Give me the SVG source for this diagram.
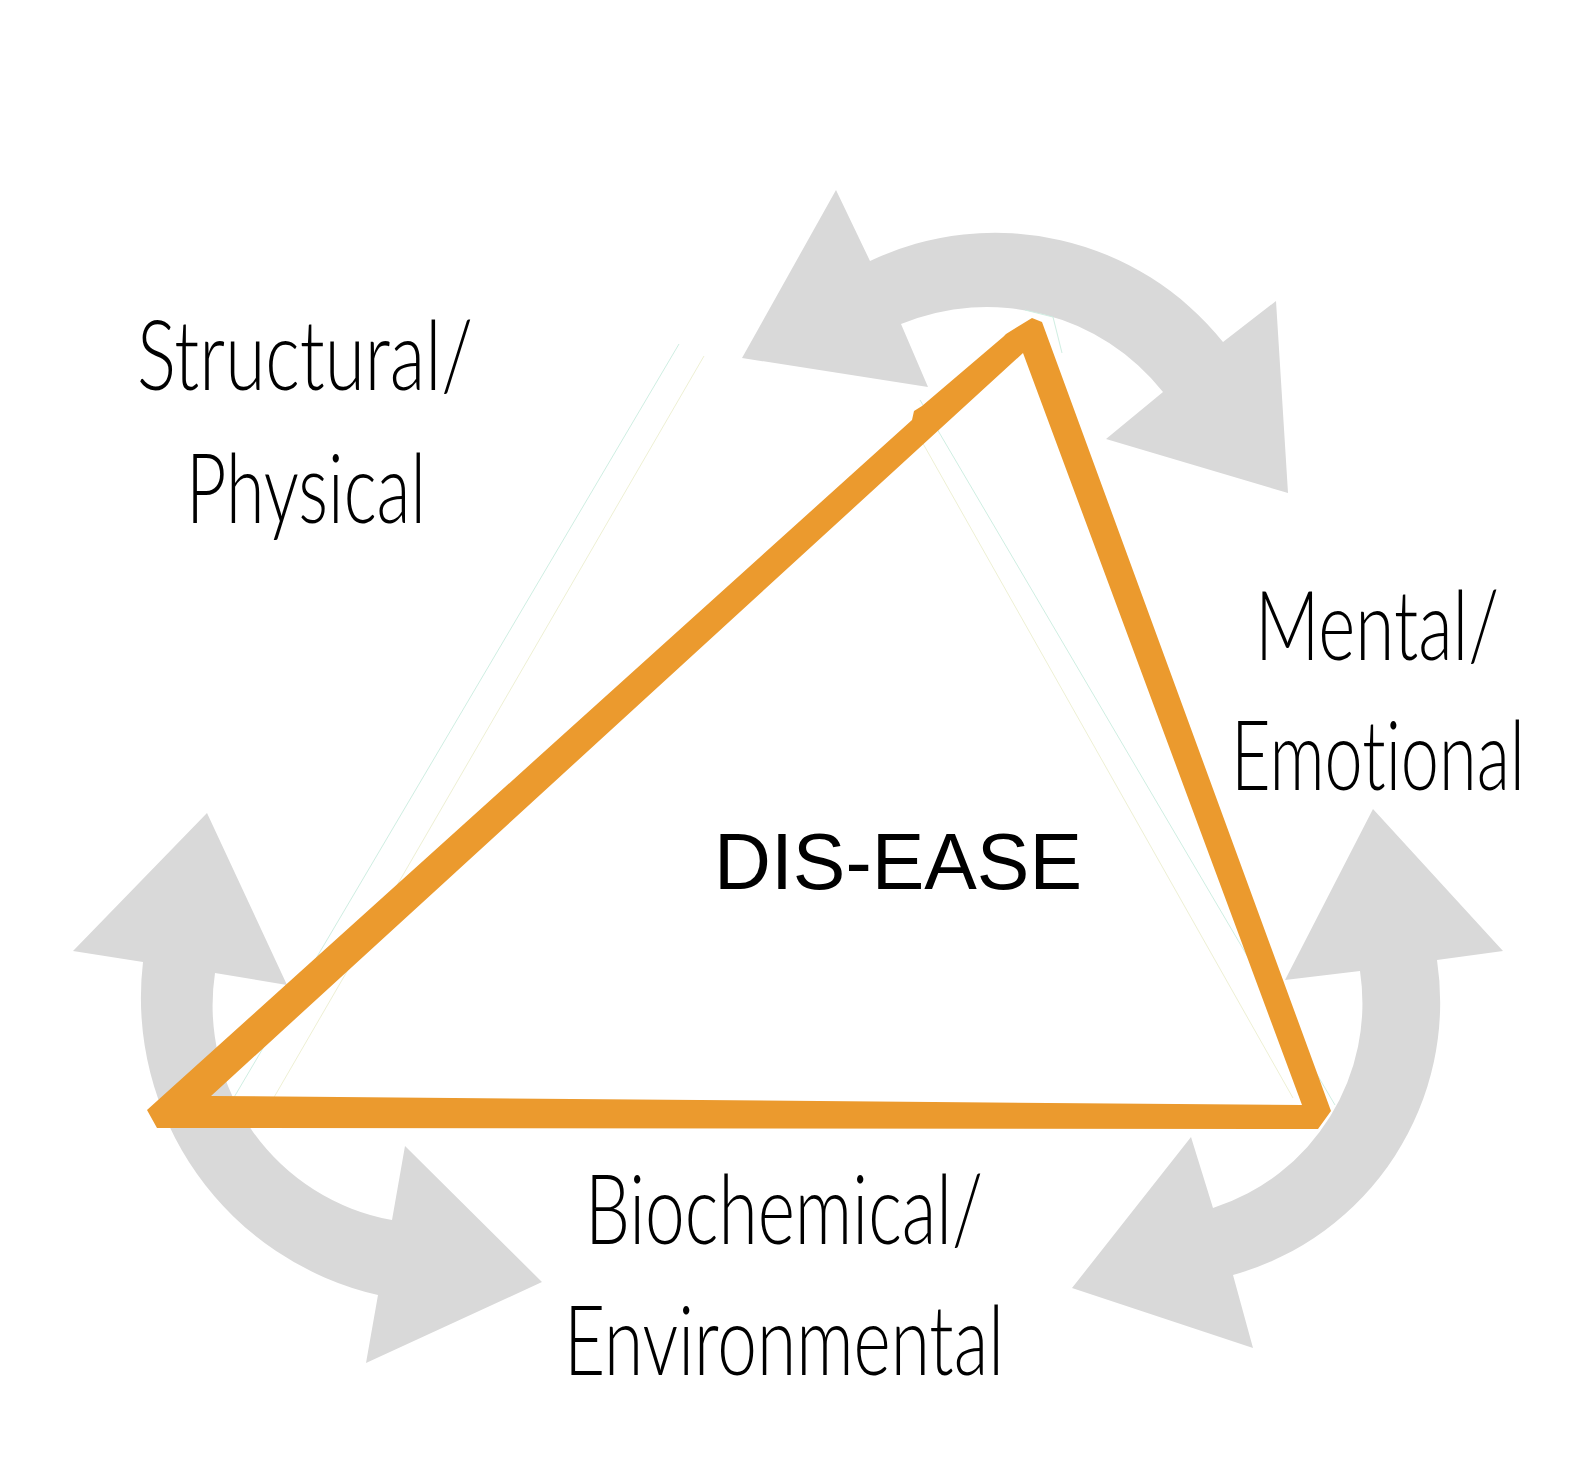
<svg xmlns="http://www.w3.org/2000/svg" width="1588" height="1473" viewBox="0 0 1588 1473">
  <style>
    .arrow { fill: #d9d9d9; stroke: none; }
    .tri { fill: #eb9a2e; fill-rule: evenodd; stroke: none; }
    .faintg { fill: none; stroke: #cfeee2; stroke-width: 1; }
    .fainty { fill: none; stroke: #eef0d4; stroke-width: 1; }
    .lbl { font-family: Lato, "Open Sans", "Liberation Sans", sans-serif; font-weight: 300; font-size: 97px; fill: #000; font-variant-ligatures: none; }
    .center { font-family: "Liberation Sans", Arial, sans-serif; font-weight: 400; font-size: 79px; fill: #000; }
  </style>
  <rect width="1588" height="1473" fill="#ffffff"/>
  <g id="connectors">
    <path id="arrow-top" class="arrow" d="M 870 261 A 292 292 0 0 1 1223 342 L 1276 301 L 1288 493 L 1106 439 L 1163 392 A 225 225 0 0 0 901 324 L 928 387 L 742 358 L 836 190 Z"/>
    <path id="arrow-left" class="arrow" d="M 143 962 A 305 305 0 0 0 378 1295 L 366 1363 L 542 1282 L 405 1146 L 392 1220 A 218 218 0 0 1 215 973 L 287 985 L 207 813 L 73 951 Z"/>
    <path id="arrow-right" class="arrow" d="M 1437 960 A 283 283 0 0 1 1233 1275 L 1253 1348 L 1072 1288 L 1191 1137 L 1213 1208 A 215 215 0 0 0 1360 971 L 1285 980 L 1373 809 L 1503 951 Z"/>
  </g>
  <g id="faint-lines">
    <line class="faintg" x1="679" y1="344" x2="233" y2="1099"/>
    <line class="fainty" x1="704" y1="356" x2="273" y2="1099"/>
    <line class="faintg" x1="920" y1="400" x2="1335" y2="1105"/>
    <line class="fainty" x1="921" y1="440" x2="1293" y2="1098"/>
    <polyline class="faintg" points="1025,310 1053,317 1062,353"/>
  </g>
  <g id="triangle">
    <path class="tri" d="M 147 1110 L 912 420 L 914 411 L 922 406 L 1003 337 L 1006 334 L 1032 318 L 1042 322 L 1331 1111 L 1318 1129 L 157 1128 Z M 211 1096 L 1302 1105 L 1023 353 Z"/>
  </g>
  <g id="node-disease">
    <text class="center" x="714" y="889" textLength="368" lengthAdjust="spacingAndGlyphs">DIS-EASE</text>
  </g>
  <g id="node-structural" transform="scale(0.72,1)">
    <text class="lbl" x="190.3" y="390" textLength="466.7" lengthAdjust="spacingAndGlyphs">Structural/</text>
    <text class="lbl" x="258.3" y="523" textLength="333.3" lengthAdjust="spacingAndGlyphs">Physical</text>
  </g>
  <g id="node-mental" transform="scale(0.72,1)">
    <text class="lbl" x="1743.1" y="660" textLength="338.9" lengthAdjust="spacingAndGlyphs">Mental/</text>
    <text class="lbl" x="1709.7" y="790" textLength="408.3" lengthAdjust="spacingAndGlyphs">Emotional</text>
  </g>
  <g id="node-biochemical" transform="scale(0.72,1)">
    <text class="lbl" x="812.5" y="1244" textLength="552.8" lengthAdjust="spacingAndGlyphs">Biochemical/</text>
    <text class="lbl" x="783.3" y="1375" textLength="611.1" lengthAdjust="spacingAndGlyphs">Environmental</text>
  </g>
</svg>
